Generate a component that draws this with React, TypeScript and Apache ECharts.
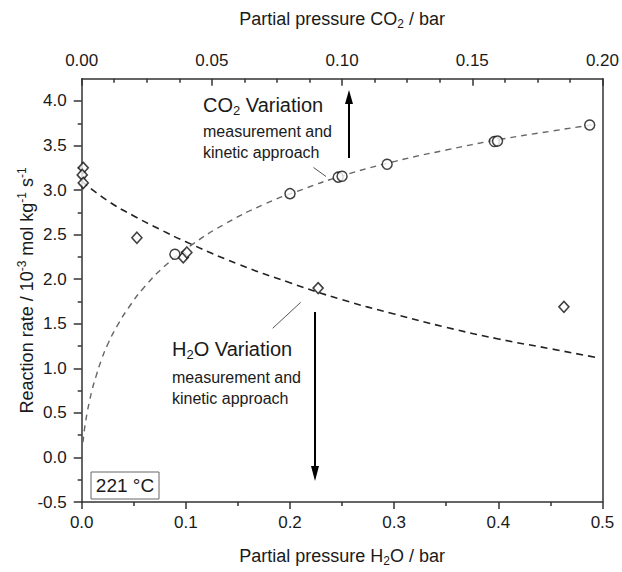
import React, { useEffect, useRef } from 'react';
import * as echarts from 'echarts';

// H2O variation: measured points (bottom axis, partial pressure H2O / bar)
const h2oPressure = [0.0015, 0.0005, 0.0015, 0.053, 0.0975, 0.101, 0.227, 0.463];
const h2oRate = [3.25, 3.17, 3.08, 2.465, 2.245, 2.30, 1.90, 1.69];

// CO2 variation: measured points (top axis, partial pressure CO2 / bar)
const co2Pressure = [0.0358, 0.080, 0.0985, 0.100, 0.1173, 0.1585, 0.1597, 0.1951];
const co2Rate = [2.28, 2.96, 3.145, 3.155, 3.29, 3.545, 3.55, 3.73];

// kinetic approach curves
const h2oFitPressure = [0, 0.025, 0.05, 0.075, 0.1, 0.15, 0.2, 0.25, 0.3, 0.35, 0.4, 0.45, 0.495];
const h2oFitRate = [3.10, 2.88, 2.71, 2.56, 2.42, 2.17, 1.96, 1.77, 1.61, 1.46, 1.33, 1.22, 1.12];

const co2FitPressure = [0.0005, 0.001, 0.0015, 0.0022, 0.003, 0.004, 0.0055, 0.0075, 0.01, 0.0135, 0.018, 0.024, 0.032, 0.042, 0.055, 0.07, 0.085, 0.1, 0.12, 0.14, 0.16, 0.18, 0.198];
const co2FitRate = [0.17, 0.30, 0.40, 0.52, 0.63, 0.76, 0.91, 1.09, 1.27, 1.47, 1.68, 1.91, 2.15, 2.38, 2.62, 2.84, 3.01, 3.16, 3.32, 3.45, 3.565, 3.66, 3.74];

// tick values
const yMajorTicks = [-0.5, 0, 0.5, 1, 1.5, 2, 2.5, 3, 3.5, 4];
const yMinorTicks = [-0.25, 0.25, 0.75, 1.25, 1.75, 2.25, 2.75, 3.25, 3.75];

const FONT = '"Liberation Sans", Arial, sans-serif';
const TXT = '#1a1a1a';
const AXIS = '#333';

const zip = (a: number[], b: number[]) => a.map((v, i) => [v, b[i]]);

const nameRich = {
  a: { fontSize: 18, fontFamily: FONT, color: TXT, lineHeight: 22 },
  sub: { fontSize: 12, fontFamily: FONT, color: TXT, lineHeight: 14, verticalAlign: 'bottom' },
  sup: { fontSize: 12, fontFamily: FONT, color: TXT, lineHeight: 14, verticalAlign: 'top' },
};

const annRich = (size: number) => ({
  a: { fontSize: size, fontFamily: FONT, fill: TXT, lineHeight: size + 4 },
  sub: { fontSize: Math.round(size * 0.65), fontFamily: FONT, fill: TXT, lineHeight: Math.round(size * 0.75), verticalAlign: 'bottom' },
});

export default function App() {
  const ref = useRef<HTMLDivElement>(null);
  useEffect(() => {
    const chart = echarts.init(ref.current!, null, { renderer: 'svg' });
    const labelStyle = { fontSize: 17, fontFamily: FONT, color: TXT };
    const option: any = {
      animation: false,
      backgroundColor: '#fff',
      grid: { left: 81.7, right: 19.3, top: 78.7, bottom: 64, containLabel: false },
      xAxis: [
        {
          type: 'value', position: 'bottom', min: 0, max: 0.5, interval: 0.1,
          axisLine: { show: true, onZero: false, lineStyle: { color: AXIS, width: 1.5 } },
          axisTick: { show: true, inside: false, length: 7, lineStyle: { color: AXIS, width: 1.5 } },
          minorTick: { show: true, splitNumber: 2, length: 4, lineStyle: { color: AXIS, width: 1.5 } },
          axisLabel: { ...labelStyle, margin: 12, formatter: (v: number) => v.toFixed(1) },
          splitLine: { show: false },
          name: '{a|Partial pressure H}{sub|2}{a|O / bar}',
          nameLocation: 'middle', nameGap: 43, nameMoveOverlap: false,
          nameTextStyle: { rich: nameRich },
        },
        {
          type: 'value', position: 'top', min: 0, max: 0.2, interval: 0.05,
          axisLine: { show: true, onZero: false, lineStyle: { color: AXIS, width: 1.5 } },
          axisTick: { show: true, inside: true, length: 7, lineStyle: { color: AXIS, width: 1.5 } },
          minorTick: { show: true, splitNumber: 4, length: 4, lineStyle: { color: AXIS, width: 1.5 } },
          axisLabel: { ...labelStyle, margin: 10, formatter: (v: number) => v.toFixed(2) },
          splitLine: { show: false },
          name: '{a|Partial pressure CO}{sub|2}{a| / bar}',
          nameLocation: 'middle', nameGap: 49, nameMoveOverlap: false,
          nameTextStyle: { rich: nameRich },
        },
      ],
      yAxis: [
        {
          type: 'value', position: 'left', min: -0.5, max: 4.25, interval: 0.5,
          axisLine: { show: true, onZero: false, lineStyle: { color: AXIS, width: 1.5 } },
          axisTick: { show: true, length: 8, customValues: yMajorTicks, lineStyle: { color: AXIS, width: 1.5 } },
          axisLabel: { ...labelStyle, margin: 15, customValues: yMajorTicks, formatter: (v: number) => v.toFixed(1) },
          splitLine: { show: false },
          name: '{a|Reaction rate / 10}{sup|-3}{a| mol kg}{sup|-1}{a| s}{sup|-1}',
          nameLocation: 'middle', nameGap: 44, nameMoveOverlap: false,
          nameTextStyle: { rich: nameRich },
        },
        {
          type: 'value', position: 'left', min: -0.5, max: 4.25, interval: 0.5,
          axisLine: { show: false, onZero: false },
          axisTick: { show: true, length: 4, customValues: yMinorTicks, lineStyle: { color: AXIS, width: 1.5 } },
          axisLabel: { show: false },
          splitLine: { show: false },
        },
        {
          type: 'value', position: 'right', min: -0.5, max: 4.25, interval: 0.5,
          axisLine: { show: true, onZero: false, lineStyle: { color: AXIS, width: 1.5 } },
          axisTick: { show: false },
          axisLabel: { show: false },
          splitLine: { show: false },
        },
      ],
      series: [
        {
          type: 'line', name: 'H2O kinetic approach', xAxisIndex: 0, yAxisIndex: 0,
          data: zip(h2oFitPressure, h2oFitRate), symbol: 'none', showSymbol: false,
          smooth: 0.5,
          lineStyle: { color: '#222', width: 1.6, type: [7, 5] }, z: 2,
        },
        {
          type: 'line', name: 'CO2 kinetic approach', xAxisIndex: 1, yAxisIndex: 0,
          data: zip(co2FitPressure, co2FitRate), symbol: 'none', showSymbol: false,
          smooth: 0.5,
          lineStyle: { color: '#666', width: 1.4, type: [6, 5] }, z: 2,
        },
        {
          type: 'scatter', name: 'H2O measurement', xAxisIndex: 0, yAxisIndex: 0,
          data: zip(h2oPressure, h2oRate), symbol: 'diamond', symbolSize: [10, 11],
          itemStyle: { color: '#fff', borderColor: '#111', borderWidth: 1.6 }, z: 3,
        },
        {
          type: 'scatter', name: 'CO2 measurement', xAxisIndex: 1, yAxisIndex: 0,
          data: zip(co2Pressure, co2Rate), symbol: 'circle', symbolSize: 10,
          itemStyle: { color: '#fff', borderColor: '#111', borderWidth: 1.5 }, z: 3,
        },
      ],
      graphic: [
        // CO2 annotation
        { type: 'text', x: 203, y: 105, style: { text: '{a|CO}{sub|2}{a| Variation}', rich: annRich(20), verticalAlign: 'middle', align: 'left' } },
        { type: 'text', x: 203, y: 131, style: { text: 'measurement and', font: `16px ${FONT}`, fill: TXT, verticalAlign: 'middle', align: 'left' } },
        { type: 'text', x: 203, y: 152, style: { text: 'kinetic approach', font: `16px ${FONT}`, fill: TXT, verticalAlign: 'middle', align: 'left' } },
        { type: 'line', shape: { x1: 313.5, y1: 167.5, x2: 326, y2: 176.5 }, style: { stroke: '#555', lineWidth: 1 } },
        { type: 'line', shape: { x1: 349, y1: 158, x2: 349, y2: 102 }, style: { stroke: '#000', lineWidth: 2 } },
        { type: 'polygon', shape: { points: [[345, 104], [353, 104], [349, 90]] }, style: { fill: '#000' } },
        // H2O annotation
        { type: 'text', x: 172, y: 349, style: { text: '{a|H}{sub|2}{a|O Variation}', rich: annRich(20), verticalAlign: 'middle', align: 'left' } },
        { type: 'text', x: 172, y: 377, style: { text: 'measurement and', font: `16px ${FONT}`, fill: TXT, verticalAlign: 'middle', align: 'left' } },
        { type: 'text', x: 172, y: 398, style: { text: 'kinetic approach', font: `16px ${FONT}`, fill: TXT, verticalAlign: 'middle', align: 'left' } },
        { type: 'line', shape: { x1: 272.7, y1: 328.3, x2: 300.7, y2: 302.3 }, style: { stroke: '#555', lineWidth: 1 } },
        { type: 'line', shape: { x1: 315, y1: 312, x2: 315, y2: 468 }, style: { stroke: '#000', lineWidth: 2 } },
        { type: 'polygon', shape: { points: [[311, 466], [319, 466], [315, 481]] }, style: { fill: '#000' } },
        // temperature box
        { type: 'rect', shape: { x: 91, y: 472, width: 68, height: 27 }, style: { fill: '#fff', stroke: '#666', lineWidth: 1 } },
        { type: 'text', x: 125, y: 485.5, style: { text: '221 °C', font: `19px ${FONT}`, fill: TXT, verticalAlign: 'middle', align: 'center' } },
      ],
    };
    chart.setOption(option);
    return () => chart.dispose();
  }, []);
  return <div ref={ref} style={{ position: 'fixed', left: 0, top: 0, width: 622, height: 572, background: '#fff' }} />;
}
